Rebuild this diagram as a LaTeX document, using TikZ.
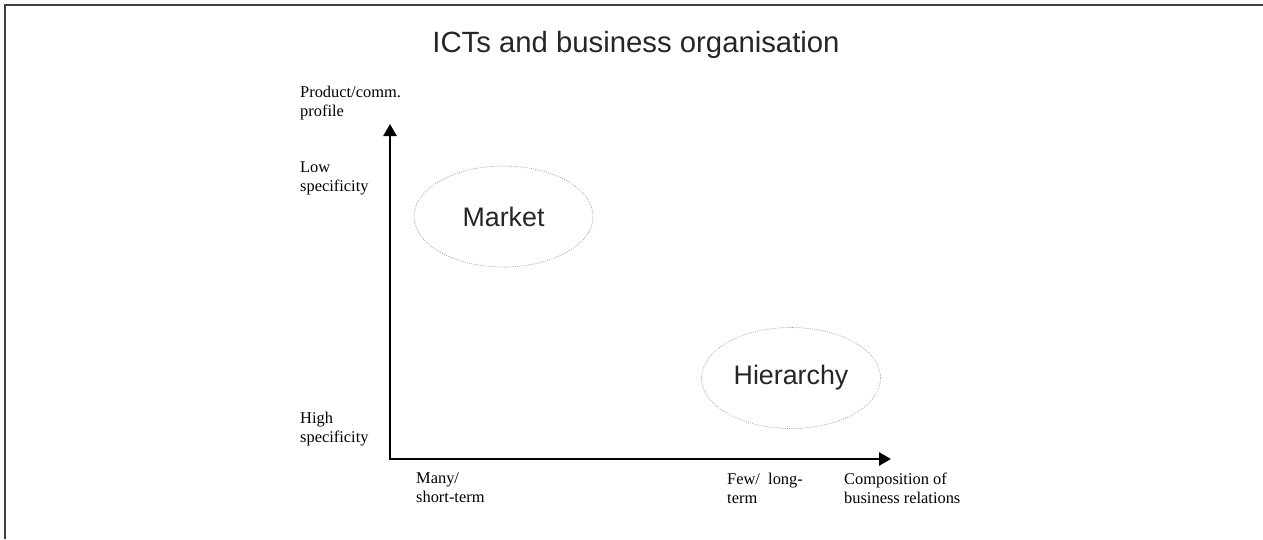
\documentclass[tikz,border=0pt]{standalone}
\usepackage{fontspec}
\setmainfont{Liberation Serif}
\setsansfont{Liberation Sans}
\usetikzlibrary{arrows.meta,shapes.geometric}
\begin{document}
\begin{tikzpicture}[x=1pt,y=-1pt,
  lbl/.style={font=\fontsize{16.4}{19}\selectfont, align=left, inner sep=0pt, anchor=base west},
  regime/.style={ellipse, draw=gray!80, line width=0.6pt, dash pattern=on 1pt off 1.2pt,
    minimum width=179pt, minimum height=101pt, inner sep=0pt,
    font=\sffamily\fontsize{26.8}{30}\selectfont, text=black!85},
  axis/.style={line width=2.6pt, line join=miter, {Triangle[width=13pt,length=12pt]}-{Triangle[width=13pt,length=12pt]}}]
\useasboundingbox (0,0) rectangle (1263,539);
\fill[white] (0,0) rectangle (1263,539);
\draw[line width=2pt, black!75] (5,539) -- (5,5) -- (1263,5);
\node[font=\sffamily\fontsize{29.3}{32}\selectfont, text=black!85, anchor=base, inner sep=0pt] (title) at (636,52) {ICTs and business organisation};
\coordinate (O) at (390,459);
\coordinate (Ytip) at (390,124);
\coordinate (Xtip) at (891,459);
\draw[axis] (Ytip) -- (O) -- (Xtip);
\node[regime] (market) at (503.5,216.5) {Market};
\node[regime] (hier) at (791,378) {Hierarchy};
\node[lbl] (ylab) at (300,116) {Product/comm.\\profile};
\node[lbl] (low) at (300,191) {Low\\specificity};
\node[lbl] (high) at (300,442) {High\\specificity};
\node[lbl] (many) at (416,502) {Many/\\short-term};
\node[lbl] (few) at (727,503) {Few/\ \ long-\\term};
\node[lbl] (xlab) at (844,503) {Composition of\\business relations};
\end{tikzpicture}
\end{document}
